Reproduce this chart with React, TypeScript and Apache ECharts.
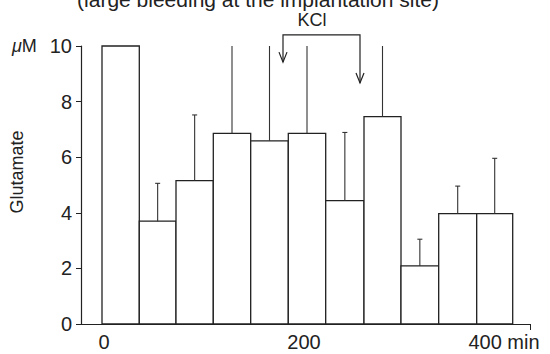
import React, { useEffect, useRef } from "react";
import * as echarts from "echarts";

// Time bins (min) and glutamate values (µM)
const binStart = [-2, 35.3, 72, 109.3, 146.7, 184.3, 221.7, 260, 297, 334.7, 372.7];
const binEnd = [35.3, 72, 109.3, 146.7, 184.3, 221.7, 260, 297, 334.7, 372.7, 408.7];
const meanValues = [10, 3.7, 5.16, 6.86, 6.59, 6.86, 4.44, 7.46, 2.09, 3.97, 3.97];
const errorTop = [10, 5.06, 7.52, 10.5, 10.5, 10.5, 6.89, 10.5, 3.05, 4.96, 5.96];
const xTickLabels = [0, 200, 400];
// KCl application (min): arrow positions
const kclStart = 179;
const kclEnd = 256;
const kclLabelAt = 208;

const Y_MAX = 10;
const FONT = "'Liberation Sans', Arial, Helvetica, sans-serif";
const INK = "#222";

export default function App() {
  const ref = useRef<HTMLDivElement>(null);
  useEffect(() => {
    if (!ref.current) return;
    const chart = echarts.init(ref.current, undefined, { renderer: "svg" });
    const barData = binStart.map((s, i) => [s, binEnd[i], meanValues[i], errorTop[i]]);
    chart.setOption({
      animation: false,
      backgroundColor: "#fff",
      grid: { left: 81, right: 20, top: 46, bottom: 30 },
      xAxis: {
        type: "value",
        min: -23,
        max: 426,
        splitLine: { show: false },
        axisLine: { show: true, onZero: false, lineStyle: { color: INK, width: 1.2 } },
        axisTick: { show: true, customValues: [426], length: 6, lineStyle: { color: INK } },
        axisLabel: {
          customValues: xTickLabels,
          fontSize: 20,
          fontFamily: FONT,
          color: INK,
          margin: 8,
          formatter: (v: number) => (v === 400 ? "400 min" : String(v)),
        },
      },
      yAxis: {
        type: "value",
        min: 0,
        max: Y_MAX,
        interval: 2,
        splitLine: { show: false },
        axisLine: { show: true, onZero: false, lineStyle: { color: INK, width: 1.2 } },
        axisTick: { show: true, length: 5, lineStyle: { color: INK } },
        axisLabel: { fontSize: 20, fontFamily: FONT, color: INK, margin: 9 },
      },
      graphic: [
        {
          type: "text",
          x: 258,
          y: 10,
          style: {
            text: "(large bleeding at the implantation site)",
            fontSize: 21,
            fontFamily: FONT,
            fill: INK,
            align: "center",
            verticalAlign: "bottom",
          },
        },
        {
          type: "text",
          x: 12,
          y: 46,
          style: {
            text: "{i|\u03bc}M",
            fontSize: 18,
            fontFamily: FONT,
            fill: INK,
            verticalAlign: "middle",
            rich: { i: { fontStyle: "italic", fontSize: 18, fontFamily: FONT, fill: INK } },
          },
        },
        {
          type: "text",
          x: 17,
          y: 172,
          rotation: Math.PI / 2,
          style: {
            text: "Glutamate",
            fontSize: 18,
            fontFamily: FONT,
            fill: INK,
            align: "center",
            verticalAlign: "middle",
          },
        },
      ],
      series: [
        {
          type: "custom",
          clip: false,
          data: barData,
          encode: { x: [0, 1], y: [2, 3] },
          renderItem: (params: any, api: any) => {
            const s = api.value(0);
            const e = api.value(1);
            const v = api.value(2);
            const err = api.value(3);
            const p0 = api.coord([s, 0]);
            const p1 = api.coord([e, v]);
            const cx = (s + e) / 2;
            const capped = err < Y_MAX;
            const pe = api.coord([cx, Math.min(err, Y_MAX)]);
            const children: any[] = [
              {
                type: "rect",
                shape: { x: p0[0], y: p1[1], width: p1[0] - p0[0], height: p0[1] - p1[1] },
                style: { fill: "#fff", stroke: INK, lineWidth: 1.3 },
              },
            ];
            if (err > v) {
              children.push({
                type: "line",
                shape: { x1: pe[0], y1: p1[1], x2: pe[0], y2: pe[1] },
                style: { stroke: "#333", lineWidth: 1.1 },
              });
              if (capped) {
                children.push({
                  type: "line",
                  shape: { x1: pe[0] - 2.5, y1: pe[1], x2: pe[0] + 2.5, y2: pe[1] },
                  style: { stroke: "#333", lineWidth: 1.1 },
                });
              }
            }
            return { type: "group", children };
          },
        },
        {
          type: "custom",
          clip: false,
          data: [[kclStart, kclEnd, kclLabelAt]],
          renderItem: (params: any, api: any) => {
            const a = api.value(0);
            const b = api.value(1);
            const lab = api.value(2);
            const bracket = api.coord([a, 10.4]);
            const tipL = api.coord([a, 9.42]);
            const tipR = api.coord([b, 8.67]);
            const right = api.coord([b, 10.4]);
            const label = api.coord([lab, 10.93]);
            const ls = { stroke: INK, lineWidth: 1.2, fill: "none" };
            return {
              type: "group",
              children: [
                {
                  type: "polyline",
                  shape: {
                    points: [
                      [tipL[0], tipL[1]],
                      [bracket[0], bracket[1]],
                      [right[0], right[1]],
                      [tipR[0], tipR[1]],
                    ],
                  },
                  style: ls,
                },
                {
                  type: "polyline",
                  shape: { points: [[tipL[0] - 4, tipL[1] - 10], [tipL[0], tipL[1]], [tipL[0] + 4, tipL[1] - 10]] },
                  style: ls,
                },
                {
                  type: "polyline",
                  shape: { points: [[tipR[0] - 4, tipR[1] - 10], [tipR[0], tipR[1]], [tipR[0] + 4, tipR[1] - 10]] },
                  style: ls,
                },
                {
                  type: "text",
                  x: label[0],
                  y: label[1],
                  style: {
                    text: "KCl",
                    fontSize: 18,
                    fontFamily: FONT,
                    fill: INK,
                    align: "center",
                    verticalAlign: "middle",
                  },
                },
              ],
            };
          },
        },
      ],
    });
    return () => chart.dispose();
  }, []);
  return <div ref={ref} style={{ width: 550, height: 354, position: "absolute", left: 0, top: 0 }} />;
}
